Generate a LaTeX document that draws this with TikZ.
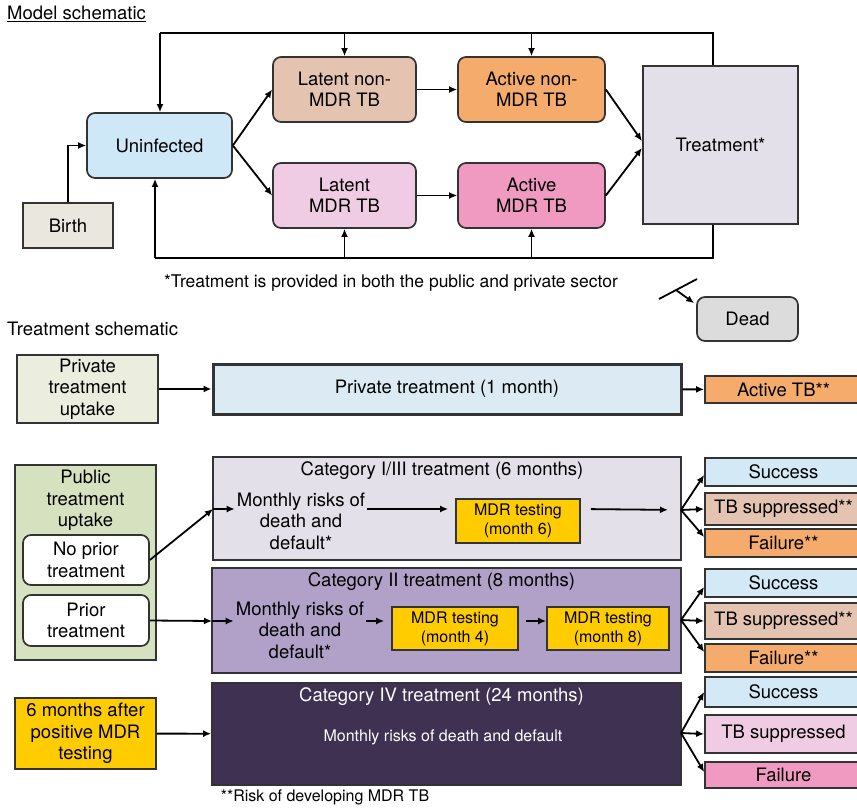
\documentclass[tikz,border=0pt]{standalone}
\usepackage{fontspec}
\setmainfont{TeX Gyre Heros}
\usepackage{tikz}
\usetikzlibrary{arrows.meta}
\usepackage{xcolor}
\definecolor{uninfc}{HTML}{CFE8F7}
\definecolor{birthc}{HTML}{EAE7DE}
\definecolor{latnonc}{HTML}{E4C4B0}
\definecolor{activec}{HTML}{F4AB6C}
\definecolor{latmdrc}{HTML}{EFCCE3}
\definecolor{actmdrc}{HTML}{F19AC1}
\definecolor{treatc}{HTML}{E4E0EA}
\definecolor{deadc}{HTML}{DCDCDC}
\definecolor{privupc}{HTML}{EBEDDF}
\definecolor{privtrc}{HTML}{DCEBF3}
\definecolor{pubupc}{HTML}{D6E1BF}
\definecolor{cattwoc}{HTML}{B1A0C7}
\definecolor{catfourc}{HTML}{3F3152}
\definecolor{testc}{HTML}{FFCC00}
\definecolor{successc}{HTML}{D3E9F6}
\definecolor{edgec}{HTML}{333333}
\newcommand{\mainfs}{\fontsize{18.5}{21.5}\selectfont}
\newcommand{\smallfs}{\fontsize{16}{19}\selectfont}
\newcommand{\notefs}{\fontsize{17.5}{20}\selectfont}
\newcommand{\footfs}{\fontsize{16}{19}\selectfont}
\tikzset{
  state/.style={draw=edgec, line width=1.7pt, rounded corners=8pt, align=center, inner sep=2pt, font=\mainfs},
  plainbox/.style={draw=edgec, line width=1.7pt, align=center, inner sep=2pt, font=\mainfs},
  catbox/.style={draw=edgec, line width=1.8pt, inner sep=0pt},
  cattitle/.style={anchor=north, xshift=-5pt, inner sep=5pt, font=\mainfs},
  risks/.style={align=center, inner sep=2pt, font=\mainfs},
  testbox/.style={draw=edgec, fill=testc, line width=1.7pt, align=center, inner sep=2pt, minimum height=43pt, font=\smallfs},
  outcome/.style={draw=edgec, line width=1.7pt, align=center, inner sep=1pt, minimum width=157pt, font=\mainfs},
  heading/.style={anchor=base west, inner sep=0pt, font=\mainfs},
  note/.style={inner sep=1pt, font=\notefs},
  arrow/.style={-{Latex[length=8pt,width=7pt]}, line width=1.8pt},
  link/.style={line width=1.8pt}
}

\begin{document}
\begin{tikzpicture}[x=1pt, y=-1pt]
\useasboundingbox (0,0) rectangle (857,808);
\node[heading] (mhead) at (7,20) {\underline{Model schematic}};
\node[state, fill=uninfc, minimum width=145pt, minimum height=65pt] (unin) at (159.5,145.5) {Uninfected};
\node[plainbox, fill=birthc, minimum width=90pt, minimum height=45pt] (birth) at (68,225.5) {Birth};
\node[state, fill=latnonc, minimum width=143pt, minimum height=65pt] (latnon) at (344.5,89.5) {Latent non-\\MDR TB};
\node[state, fill=latmdrc, minimum width=143pt, minimum height=65pt] (latmdr) at (344.5,195.5) {Latent\\MDR TB};
\node[state, fill=activec, minimum width=147pt, minimum height=65pt] (actnon) at (531.5,89.5) {Active non-\\MDR TB};
\node[state, fill=actmdrc, minimum width=147pt, minimum height=65pt] (actmdr) at (531.5,195.5) {Active\\MDR TB};
\node[plainbox, fill=treatc, line width=2.2pt, minimum width=155pt, minimum height=158pt] (treat) at (720.5,145) {Treatment*};
\node[state, fill=deadc, minimum width=101pt, minimum height=44pt] (dead) at (747.5,319) {Dead};
\node[note] (mnote) at (391,283) {*Treatment is provided in both the public and private sector};
\coordinate (topl) at (160,33);
\coordinate (topr) at (713,33);
\coordinate (botl) at (155,258);
\coordinate (botr) at (713,258);
\draw[link] (treat.north -| topr) -- (topr) -- (topl);
\draw[arrow] (topl) -- (unin.north -| topl);
\draw[arrow] (latnon.north |- topl) -- (latnon.north);
\draw[arrow] (actnon.north |- topl) -- (actnon.north);
\draw[link] (treat.south -| botr) -- (botr) -- (botl);
\draw[arrow] (botl) -- (unin.south -| botl);
\draw[arrow] (latmdr.south |- botl) -- (latmdr.south);
\draw[arrow] (actmdr.south |- botl) -- (actmdr.south);
\draw[arrow] (birth.north) |- (unin.west);
\draw[arrow] (unin.east) -- (latnon.west);
\draw[arrow] (unin.east) -- (latmdr.west);
\draw[arrow] (latnon) -- (actnon);
\draw[arrow] (latmdr) -- (actmdr);
\draw[arrow] (actnon.east) -- ([yshift=4pt]treat.west);
\draw[arrow] (actmdr.east) -- ([yshift=-3pt]treat.west);
\coordinate (deadl) at (659,299);
\coordinate (deadr) at (697,279);
\coordinate (deadm) at (676,290);
\draw[link] (deadl) -- (deadr);
\draw[arrow] (deadm) -- ([xshift=-2pt,yshift=-7pt]dead.north west);

\node[heading] (thead) at (7,335) {Treatment schematic};
\node[plainbox, fill=privupc, minimum width=141pt, minimum height=68pt] (privup) at (87.5,389) {Private\\treatment\\uptake};
\node[plainbox, fill=privtrc, line width=3pt, minimum width=468pt, minimum height=50pt] (privtr) at (447,389) {Private treatment (1 month)};
\node[outcome, fill=activec, minimum height=27pt] (acttb) at (783.5,389.5) {Active TB**};
\draw[arrow] (privup) -- (privtr);
\draw[arrow] (privtr) -- (acttb);

\node[plainbox, fill=pubupc, minimum width=141pt, minimum height=195pt] (pubup) at (85.5,562.5) {};
\node[anchor=north, align=center, inner sep=6pt, font=\mainfs] (pubtxt) at (pubup.north) {Public\\treatment\\uptake};
\node[state, fill=white, minimum width=126pt, minimum height=50pt] (noprior) at (86,560) {No prior\\treatment};
\node[state, fill=white, minimum width=126pt, minimum height=51pt] (prior) at (86,620.5) {Prior\\treatment};

\node[catbox, fill=treatc, minimum width=468pt, minimum height=103pt] (catone) at (447,508.5) {};
\node[cattitle] (cattitleone) at (catone.north) {Category I/III treatment (6 months)};
\node[risks] (riskone) at (301,521) {Monthly risks of\\death and\\default*};
\node[testbox, minimum width=124pt, minimum height=44pt] (mdrsix) at (518,521) {MDR testing\\(month 6)};
\coordinate (inone) at (213,509);
\coordinate (outone) at (681,510);
\draw[arrow] (noprior.east) -- (inone);
\draw[arrow] (inone) -- (inone -| riskone.west);
\draw[arrow, shorten >=7pt] (inone -| riskone.east) -- (inone -| mdrsix.west);
\draw[arrow, shorten <=10pt, shorten >=13pt] (inone -| mdrsix.east) -- (outone);
\node[outcome, fill=successc, minimum height=28pt] (sucone) at (783.5,472) {Success};
\node[outcome, fill=latnonc, minimum height=32pt] (supone) at (783.5,509) {TB suppressed**};
\node[outcome, fill=activec, minimum height=28pt] (failone) at (783.5,543) {Failure**};
\draw[arrow] (outone) -- ([yshift=-3pt]sucone.west);
\draw[arrow] (outone) -- (supone.west);
\draw[arrow] (outone) -- ([yshift=6pt]failone.west);

\node[catbox, fill=cattwoc, minimum width=469pt, minimum height=105pt] (cattwo) at (446.5,620.5) {};
\node[cattitle] (cattitletwo) at (cattwo.north) {Category II treatment (8 months)};
\node[risks] (risktwo) at (300,630) {Monthly risks of\\death and\\default*};
\node[testbox, minimum width=126pt] (mdrfour) at (455,628.5) {MDR testing\\(month 4)};
\node[testbox, minimum width=122pt] (mdreight) at (608,628.5) {MDR testing\\(month 8)};
\coordinate (intwo) at (212,621);
\coordinate (outtwo) at (681,620);
\draw[arrow] (prior.east) -- (intwo);
\draw[arrow] (intwo) -- (intwo -| risktwo.west);
\draw[arrow, shorten >=7pt] (intwo -| risktwo.east) -- (intwo -| mdrfour.west);
\draw[arrow, shorten <=7pt] (intwo -| mdrfour.east) -- (intwo -| mdreight.west);
\node[outcome, fill=successc, minimum height=28pt] (suctwo) at (783.5,583) {Success};
\node[outcome, fill=latnonc, minimum height=36pt] (suptwo) at (783.5,621) {TB suppressed**};
\node[outcome, fill=activec, minimum height=28pt] (failtwo) at (783.5,658) {Failure**};
\draw[arrow] (outtwo) -- ([yshift=-4pt]suctwo.west);
\draw[arrow] (outtwo) -- (suptwo.west);
\draw[arrow] (outtwo) -- ([yshift=6pt]failtwo.west);

\node[catbox, fill=catfourc, minimum width=469pt, minimum height=102pt] (catfour) at (446.5,734) {};
\node[cattitle, text=white] (cattitlefour) at (catfour.north) {Category IV treatment (24 months)};
\node[inner sep=1pt, text=white, font=\smallfs] (riskfour) at (443,737) {Monthly risks of death and default};
\node[plainbox, fill=testc, minimum width=141pt, minimum height=71pt] (sixmo) at (85.5,733.5) {6 months after\\positive MDR\\testing};
\coordinate (outfour) at (681,733);
\draw[arrow] (sixmo) -- (catfour);
\node[outcome, fill=successc, minimum height=30pt] (sucfour) at (783.5,692) {Success};
\node[outcome, fill=latmdrc, minimum height=38pt] (supfour) at (783.5,734) {TB suppressed};
\node[outcome, fill=actmdrc, minimum height=26pt] (failfour) at (783.5,775) {Failure};
\draw[arrow] (outfour) -- (sucfour.west);
\draw[arrow] (outfour) -- (supfour.west);
\draw[arrow] (outfour) -- ([yshift=3pt]failfour.west);
\node[inner sep=1pt, font=\footfs] (fntwo) at (325,797) {**Risk of developing MDR TB};
\end{tikzpicture}
\end{document}
